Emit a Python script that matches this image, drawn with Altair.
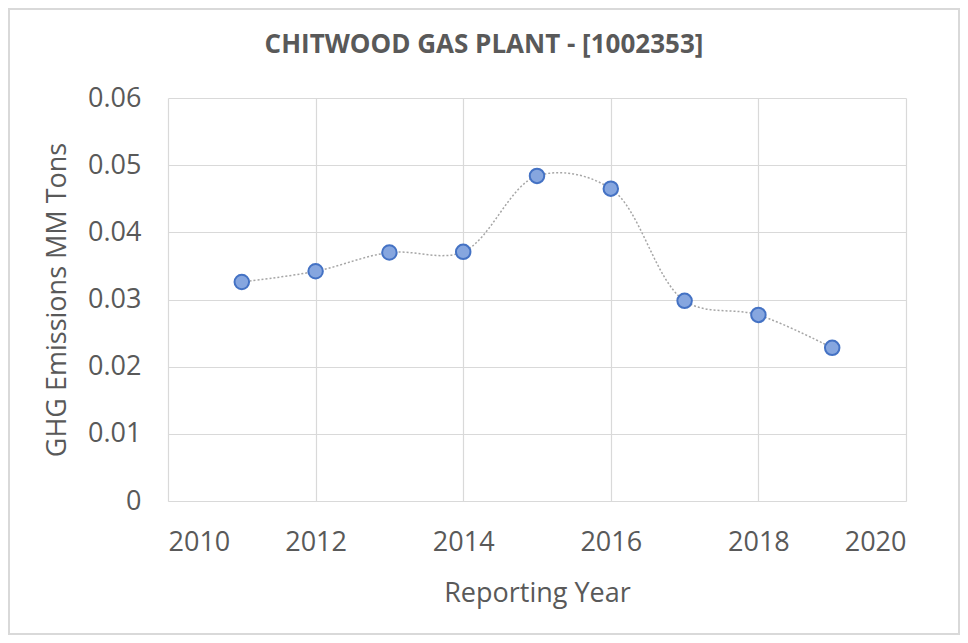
import altair as alt
import pandas as pd

years = [2011, 2012, 2013, 2014, 2015, 2016, 2017, 2018, 2019]
emissions = [0.0326, 0.0342, 0.0370, 0.0371, 0.0484, 0.0465, 0.0298, 0.0277, 0.0228]
title_text = ["CHITWOOD GAS PLANT - [1002353]"]

df = pd.DataFrame({"year": years, "value": emissions})

FONT = "Open Sans"
GREY = "#595959"

x = alt.X("year:Q", scale=alt.Scale(domain=[2010, 2020], nice=False),
          axis=alt.Axis(title="Reporting Year", values=[2010, 2012, 2014, 2016, 2018, 2020],
                        format="d", labelFontSize=27, titleFontSize=27, labelPadding=28,
                        titlePadding=25, grid=True, ticks=False, domainColor="#d9d9d9",
                        labelColor=GREY, titleColor=GREY, titleFontWeight="normal",
                        labelFont=FONT, titleFont=FONT))
y = alt.Y("value:Q", scale=alt.Scale(domain=[0, 0.06], nice=False),
          axis=alt.Axis(title="GHG Emissions MM Tons", values=[0, 0.01, 0.02, 0.03, 0.04, 0.05, 0.06],
                        labelExpr="datum.value == 0 ? '0' : format(datum.value, '.2f')",
                        labelFontSize=27, titleFontSize=27, labelPadding=27, titlePadding=16,
                        grid=True, ticks=False, domain=False, labelColor=GREY, titleColor=GREY,
                        titleFontWeight="normal", labelFont=FONT, titleFont=FONT))

line = alt.Chart(df).mark_line(interpolate="catmull-rom", color="#a6a6a6",
                               strokeDash=[2, 2], strokeWidth=1.5).encode(x=x, y=y)
pts = alt.Chart(df).mark_point(filled=True, size=210, fill="#86a6df", stroke="#4472c4",
                               strokeWidth=2, opacity=1).encode(x=x, y=y)
border = alt.Chart(df).mark_rect(fill=None, stroke="#d9d9d9", strokeWidth=1.5).encode(
    x=alt.value(-159), x2=alt.value(738 + 53), y=alt.value(-89), y2=alt.value(403 + 133))
title = alt.Chart(pd.DataFrame({"t": title_text})).mark_text(
    font=FONT, fontSize=26, fontWeight="bold", color=GREY, align="center", baseline="middle"
).encode(text="t:N", x=alt.value(316), y=alt.value(-53))

chart = alt.layer(border, line, pts, title).properties(
    width=738, height=403,
    autosize=alt.AutoSizeParams(type="none"),
    padding={"left": 160, "top": 90, "right": 54, "bottom": 134},
).configure_view(stroke=None).configure_axis(gridColor="#d9d9d9", gridWidth=1.2)

chart.save("out.html", embed_options={"renderer": "svg", "actions": False})
